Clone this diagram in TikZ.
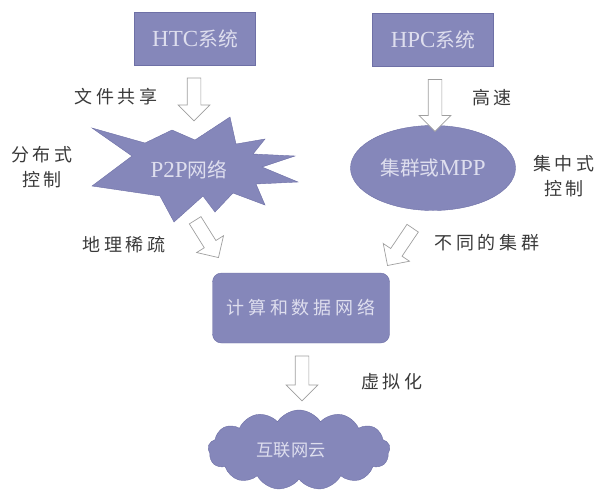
\documentclass[tikz,border=0pt]{standalone}
\usepackage{fontspec}
\usetikzlibrary{shapes.geometric,shapes.arrows,shapes.symbols}
\setmainfont{Liberation Serif}
\newfontfamily\zh[Scale=0.86]{Noto Sans CJK SC}
\newfontfamily\zhsp[LetterSpace=22]{Noto Sans CJK SC}
\definecolor{myblue}{RGB}{133,135,186}
\definecolor{myedge}{RGB}{110,112,166}
\definecolor{mytext}{RGB}{222,222,238}
\definecolor{mygray}{RGB}{58,58,58}

\tikzset{
  sysbox/.style={rectangle, draw=myedge, fill=myblue, text=mytext, minimum width=121pt, minimum height=53pt, font=\fontsize{23}{26}\selectfont},
  hollow/.style={single arrow, draw=gray!75, fill=white, line width=0.7pt, single arrow head extend=9pt, inner xsep=0pt, inner ysep=6.5pt, single arrow head indent=0pt},
  lab/.style={text=mygray, font=\fontsize{18}{25}\selectfont\zhsp, align=center},
  inner/.style={text=mytext, font=\fontsize{23}{26}\selectfont}
}

\begin{document}
\begin{tikzpicture}[x=1pt,y=-1pt]
\useasboundingbox (0,0) rectangle (594,491);

% the two kinds of systems
\node[sysbox] (htc) at (195,39) {HTC{\zh 系统}};
\node[sysbox] (hpc) at (433,40) {HPC{\zh 系统}};

% P2P burst
\filldraw[draw=myedge, fill=myblue, line join=miter]
  (92,128) -- (145,143) -- (172,130) -- (195,140) -- (230,117) -- (236,144)
  -- (265,139) -- (253,154) -- (295,156) -- (262,167) -- (298,182) -- (256,184)
  -- (265,205) -- (233,193) -- (215,212) -- (203,196) -- (174,222) -- (160,196)
  -- (92,186) -- (132,156) -- cycle;
\node[inner] (p2p) at (189,170) {P2P{\zh 网络}};

\node[ellipse, draw=myedge, fill=myblue, inner, minimum width=165pt, minimum height=85pt] (mpp) at (433,168) {{\zh 集群或}MPP};

\node[rectangle, rounded corners=9pt, draw=myedge, fill=myblue, text=mytext, minimum width=177pt, minimum height=70pt, font=\fontsize{18}{24}\selectfont\zhsp] (grid) at (301,308) {计算和数据网络};

\node[cloud, cloud puffs=13, cloud puff arc=115, aspect=2.3, draw=myedge, fill=myblue, text=mytext, minimum width=182pt, minimum height=80pt, font=\fontsize{20}{24}\selectfont\zh] (cloud) at (299,450) {\hspace*{-16pt}互联网云};

% hollow arrows
\node[hollow, rotate=-90, minimum height=43pt] (a1) at (194,96) {};
\node[hollow, rotate=-90, minimum height=52pt] (a2) at (435,102) {};
\node[hollow, rotate=-58, minimum height=44pt] (a3) at (205,236) {};
\node[hollow, rotate=-124, minimum height=45pt] (a4) at (402,244) {};
\node[hollow, rotate=-90, minimum height=45pt] (a5) at (302,375) {};

% labels
\node[lab] (l1) at (116,97) {文件共享};
\node[lab] (l2) at (492,98) {高速};
\node[lab] (l3) at (42,167) {分布式\\控制};
\node[lab] (l4) at (564,176) {集中式\\控制};
\node[lab] (l5) at (124,245) {地理稀疏};
\node[lab] (l6) at (487,243) {不同的集群};
\node[lab] (l7) at (392,382) {虚拟化};
\end{tikzpicture}
\end{document}
